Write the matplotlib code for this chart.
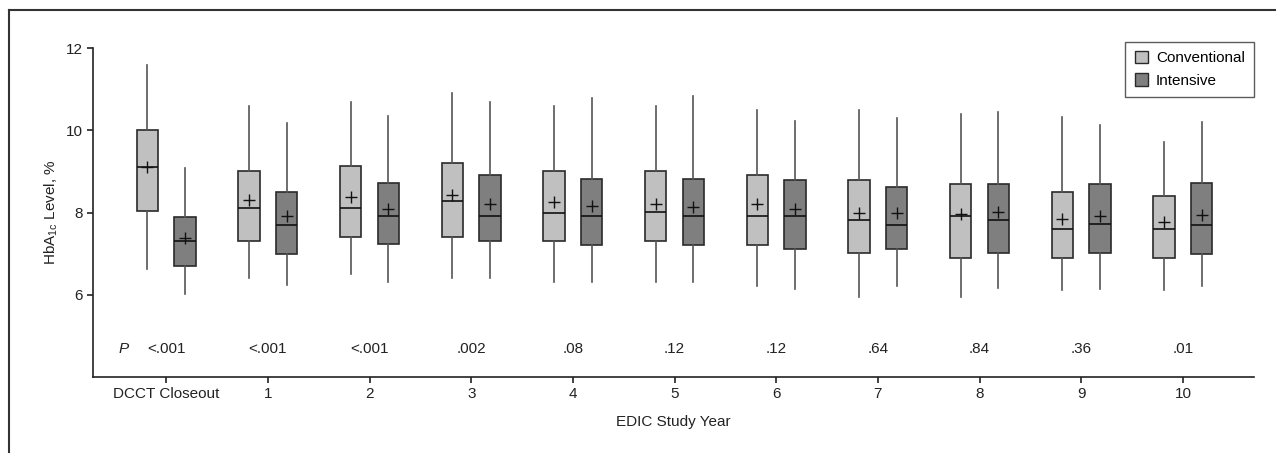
import matplotlib.pyplot as plt
from matplotlib.lines import Line2D
from matplotlib.patches import Patch

plt.rcParams['font.family'] = ['Liberation Sans', 'DejaVu Sans']

groups = ['DCCT Closeout', '1', '2', '3', '4', '5', '6', '7', '8', '9', '10']
p_values = ['<.001', '<.001', '<.001', '.002', '.08', '.12', '.12', '.64', '.84', '.36', '.01']

# Conventional: whisker low, q1, median, q3, whisker high, mean
conv_low = [6.63, 6.42, 6.51, 6.42, 6.31, 6.31, 6.21, 5.95, 5.94, 6.12, 6.12]
conv_q1 = [8.04, 7.31, 7.40, 7.40, 7.31, 7.31, 7.21, 7.01, 6.90, 6.90, 6.90]
conv_med = [9.10, 8.10, 8.10, 8.29, 8.00, 8.01, 7.92, 7.82, 7.92, 7.60, 7.60]
conv_q3 = [10.0, 9.00, 9.13, 9.20, 9.00, 9.00, 8.91, 8.80, 8.70, 8.50, 8.40]
conv_high = [11.6, 10.59, 10.70, 10.90, 10.59, 10.60, 10.50, 10.49, 10.39, 10.32, 9.71]
conv_mean = [9.12, 8.30, 8.38, 8.43, 8.25, 8.22, 8.20, 8.00, 7.97, 7.84, 7.77]

# Intensive
int_low = [6.01, 6.23, 6.31, 6.42, 6.31, 6.31, 6.14, 6.21, 6.17, 6.14, 6.22]
int_q1 = [6.71, 7.00, 7.23, 7.31, 7.22, 7.21, 7.11, 7.11, 7.01, 7.01, 7.00]
int_med = [7.31, 7.70, 7.91, 7.91, 7.91, 7.91, 7.92, 7.70, 7.82, 7.71, 7.70]
int_q3 = [7.90, 8.50, 8.72, 8.91, 8.81, 8.81, 8.80, 8.62, 8.70, 8.70, 8.71]
int_high = [9.08, 10.19, 10.35, 10.69, 10.78, 10.84, 10.22, 10.29, 10.44, 10.12, 10.20]
int_mean = [7.38, 7.91, 8.08, 8.22, 8.17, 8.13, 8.08, 7.98, 8.02, 7.91, 7.95]

conv_color = '#c0c0c0'
int_color = '#7f7f7f'

fig = plt.figure(figsize=(12.76, 4.53), dpi=100)
ax = fig.add_axes([0.0729, 0.1678, 0.9099, 0.726])


def make_stats(low, q1, med, q3, high, mean):
    return [dict(whislo=a, q1=b, med=c, q3=d, whishi=e, mean=f, fliers=[])
            for a, b, c, d, e, f in zip(low, q1, med, q3, high, mean)]


pos = list(range(len(groups)))
for stats, off, col in [
        (make_stats(conv_low, conv_q1, conv_med, conv_q3, conv_high, conv_mean), -0.185, conv_color),
        (make_stats(int_low, int_q1, int_med, int_q3, int_high, int_mean), 0.185, int_color)]:
    ax.bxp(stats, positions=[p + off for p in pos], widths=0.21, patch_artist=True,
           showmeans=True, showcaps=False, showfliers=False,
           boxprops=dict(facecolor=col, edgecolor='#2a2a2a', linewidth=1.2),
           medianprops=dict(color='#111111', linewidth=1.2),
           whiskerprops=dict(color='#555555', linewidth=1.2),
           meanprops=dict(marker='+', markeredgecolor='#111111', markersize=8.5,
                          markeredgewidth=1.0))

# P values
for p, txt in zip(pos, p_values):
    ax.text(p, 4.67, txt, ha='center', va='center', fontsize=11, color='#222222')
ax.text(-0.42, 4.67, 'P', ha='center', va='center', fontsize=11, style='italic',
        color='#222222')

ax.set_xlim(-0.72, 10.7)
ax.set_ylim(4, 12)
ax.set_yticks([6, 8, 10, 12])
ax.set_xticks(pos)
ax.set_xticklabels(groups)
ax.tick_params(axis='both', labelsize=11, colors='#222222', length=4, width=1.2)
ax.spines['top'].set_visible(False)
ax.spines['right'].set_visible(False)
for s in ['left', 'bottom']:
    ax.spines[s].set_linewidth(1.2)
    ax.spines[s].set_color('#222222')
ax.set_xlabel('EDIC Study Year', fontsize=11, color='#222222', labelpad=10)
ax.set_ylabel(r'HbA$_{\mathregular{1c}}$ Level, %', fontsize=11, color='#222222', labelpad=4)

handles = [Patch(facecolor=conv_color, edgecolor='#2a2a2a', label='Conventional'),
           Patch(facecolor=int_color, edgecolor='#2a2a2a', label='Intensive')]
leg = ax.legend(handles=handles, loc='upper right', bbox_to_anchor=(1.0, 1.02),
                fontsize=11, frameon=True, fancybox=False, handlelength=0.9,
                handleheight=0.9, handletextpad=0.5, borderpad=0.6, borderaxespad=0)
leg.get_frame().set_edgecolor('#333333')
leg.get_frame().set_linewidth(1.0)

# figure frame (top and left edges)
fig.add_artist(Line2D([0.007, 1.0], [0.978, 0.978], color='#333333', linewidth=1.5,
                      transform=fig.transFigure))
fig.add_artist(Line2D([0.007, 0.007], [0.0, 0.978], color='#333333', linewidth=1.5,
                      transform=fig.transFigure))

fig.savefig('out.png', dpi=100)
